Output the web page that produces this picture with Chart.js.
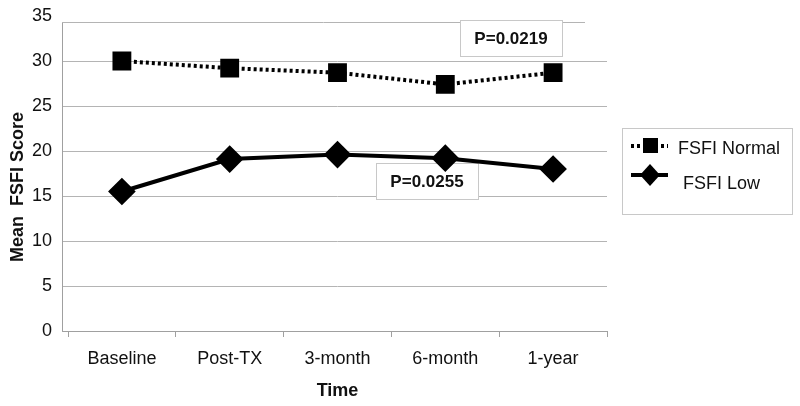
<!DOCTYPE html>
<html>
<head>
<meta charset="utf-8">
<script src="https://cdn.jsdelivr.net/npm/chart.js@4/dist/chart.umd.min.js"></script>
<style>
  html, body { margin: 0; padding: 0; background: #fff; }
  #wrap { width: 800px; height: 406px; }
</style>
</head>
<body>
<div id="wrap"><canvas id="myChart" width="800" height="406"></canvas></div>
<script>
const timeLabels  = ['Baseline', 'Post-TX', '3-month', '6-month', '1-year'];
const fsfiNormal  = [30.0, 29.2, 28.7, 27.4, 28.7];
const fsfiLow     = [15.5, 19.1, 19.6, 19.2, 18.0];
const seriesNames = ['FSFI Normal', 'FSFI Low'];
const pNotes      = [
    { text: 'P=0.0219', cat: 3.61, y: 32.6 },
    { text: 'P=0.0255', cat: 2.83, y: 16.7 }
];

const FONT = '"Liberation Sans", Arial, sans-serif';
const GRID = '#b4b4b4';

// axis line, y title, p-value boxes and the side legend
const extras = {
    id: 'extras',
    beforeDatasetsDraw(chart) {
        const ctx = chart.ctx;
        const a = chart.chartArea;
        const x = chart.scales.x;
        const y = chart.scales.y;
        ctx.save();
        ctx.strokeStyle = '#a0a0a0';
        ctx.lineWidth = 1;
        ctx.beginPath();
        ctx.moveTo(a.left - 5.5, a.top + 6);
        ctx.lineTo(a.left - 5.5, a.bottom + 0.5);
        ctx.lineTo(a.left, a.bottom + 0.5);
        ctx.stroke();
        ctx.strokeStyle = GRID;
        ctx.beginPath();
        ctx.moveTo(a.left - 6, a.top + 6.5);
        ctx.lineTo(a.right - 22, a.top + 6.5);
        ctx.stroke();

        ctx.font = 'bold 17px ' + FONT;
        ctx.textAlign = 'center';
        ctx.textBaseline = 'middle';
        pNotes.forEach((n) => {
            const cx = Math.round(x.getPixelForValue(n.cat));
            const cy = Math.round(y.getPixelForValue(n.y));
            ctx.fillStyle = '#fff';
            ctx.fillRect(cx - 51, cy - 18, 102, 36);
            ctx.strokeStyle = '#c8c8c8';
            ctx.lineWidth = 1;
            ctx.strokeRect(cx - 51 + 0.5, cy - 18 + 0.5, 102, 36);
            ctx.fillStyle = '#111';
            ctx.fillText(n.text, cx, cy + 1);
        });

        ctx.translate(18, 187);
        ctx.rotate(-Math.PI / 2);
        ctx.font = 'bold 18px ' + FONT;
        ctx.fillStyle = '#111';
        ctx.fillText('Mean  FSFI Score', 0, 0);
        ctx.restore();
    },
    afterDatasetsDraw(chart) {
        const ctx = chart.ctx;
        ctx.save();

        // legend
        ctx.strokeStyle = '#c8c8c8';
        ctx.lineWidth = 1;
        ctx.strokeRect(622.5, 128.5, 170, 86);
        ctx.font = '18px ' + FONT;
        ctx.textAlign = 'left';
        ctx.textBaseline = 'middle';

        ctx.strokeStyle = '#000';
        ctx.lineWidth = 4;
        ctx.setLineDash([3, 3]);
        ctx.beginPath(); ctx.moveTo(631, 146); ctx.lineTo(668, 146); ctx.stroke();
        ctx.setLineDash([]);
        ctx.fillStyle = '#000';
        ctx.fillRect(643, 138, 15, 15);
        ctx.fillStyle = '#111';
        ctx.fillText(seriesNames[0], 678, 149);

        ctx.beginPath(); ctx.moveTo(631, 175); ctx.lineTo(668, 175); ctx.stroke();
        ctx.fillStyle = '#000';
        ctx.beginPath();
        ctx.moveTo(650, 164); ctx.lineTo(660, 175); ctx.lineTo(650, 186); ctx.lineTo(640, 175);
        ctx.closePath(); ctx.fill();
        ctx.fillStyle = '#111';
        ctx.fillText(seriesNames[1], 683, 184);
        ctx.restore();
    }
};

new Chart(document.getElementById('myChart'), {
    type: 'line',
    data: {
        labels: timeLabels,
        datasets: [{
            label: seriesNames[0],
            data: fsfiNormal,
            borderColor: '#000',
            backgroundColor: '#000',
            borderWidth: 4,
            borderDash: [3, 3],
            pointStyle: 'rect',
            pointRadius: 10.5,
            pointHoverRadius: 10.5,
            tension: 0
        }, {
            label: seriesNames[1],
            data: fsfiLow,
            borderColor: '#000',
            backgroundColor: '#000',
            borderWidth: 4,
            pointStyle: 'rectRot',
            pointRadius: 11,
            pointHoverRadius: 11,
            tension: 0
        }]
    },
    plugins: [extras],
    options: {
        responsive: false,
        animation: false,
        layout: { padding: { top: 16, right: 193, left: 0, bottom: 0 } },
        plugins: {
            legend: { display: false },
            tooltip: { enabled: false }
        },
        scales: {
            x: {
                offset: true,
                afterFit: (s) => { s.height = 75; s.paddingLeft = 0; s.paddingRight = 0; },
                grid: {
                    offset: true,
                    drawOnChartArea: false,
                    drawTicks: true,
                    tickLength: 6,
                    color: '#a0a0a0'
                },
                border: { color: '#a0a0a0' },
                ticks: {
                    color: '#111',
                    padding: 11,
                    font: { family: FONT, size: 18 }
                },
                title: {
                    display: true,
                    text: 'Time',
                    color: '#111',
                    padding: { top: 0, bottom: 4 },
                    font: { family: FONT, size: 18, weight: 'bold' }
                }
            },
            y: {
                min: 0,
                max: 35,
                afterFit: (s) => { s.width = 68; s.paddingTop = 0; s.paddingBottom = 0; },
                grid: {
                    color: (c) => (c.tick && c.tick.value === 35 ? 'rgba(0,0,0,0)' : GRID),
                    drawTicks: true,
                    tickLength: 6
                },
                border: { display: false },
                ticks: {
                    stepSize: 5,
                    color: '#111',
                    padding: 10,
                    font: { family: FONT, size: 18 }
                }
            }
        }
    }
});
</script>
</body>
</html>
